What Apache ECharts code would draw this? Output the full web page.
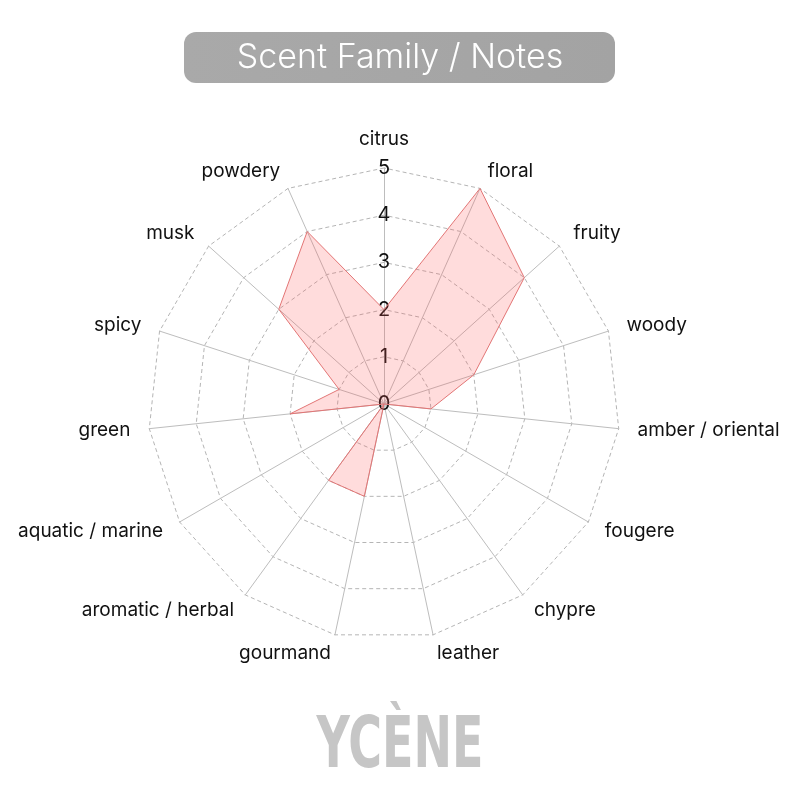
<!DOCTYPE html>
<html>
<head>
<meta charset="utf-8">
<script src="https://cdn.jsdelivr.net/npm/echarts@6/dist/echarts.min.js"></script>
<style>
  html, body { margin: 0; padding: 0; background: #fff; }
  #chart { width: 800px; height: 800px; }
</style>
</head>
<body>
<div id="chart"></div>
<script>
// notes listed clockwise from the top, as in the picture
const notes = ['citrus', 'floral', 'fruity', 'woody', 'amber / oriental', 'fougere', 'chypre',
  'leather', 'gourmand', 'aromatic / herbal', 'aquatic / marine', 'green', 'spicy', 'musk', 'powdery'];
const scores = [2, 5, 4, 2, 1, 0, 0, 0, 2, 2, 0, 2, 1, 3, 4];
const maxScore = 5;
const titleText = 'Scent Family / Notes';
const brandText = 'YCÈNE';

// echarts lays radar indicators out counter-clockwise, so flip everything after the first one
const order = [0].concat(notes.map((_, i) => i).slice(1).reverse());

const chart = echarts.init(document.getElementById('chart'));

chart.setOption({
  animation: false,
  backgroundColor: '#fff',
  graphic: [
    {
      type: 'rect',
      shape: { x: 184, y: 32, width: 431, height: 51, r: 12 },
      style: {
        fill: new echarts.graphic.LinearGradient(0, 0, 1, 0, [
          { offset: 0, color: '#a9a9a9' },
          { offset: 1, color: '#a3a3a3' }
        ])
      }
    },
    {
      type: 'text',
      x: 400, y: 58,
      style: {
        text: titleText, fill: '#fff', font: '300 34px Inter',
        align: 'center', verticalAlign: 'middle'
      }
    },
    {
      type: 'text',
      x: 400, y: 748, scaleX: 0.64,
      style: {
        text: brandText, fill: '#c6c6c6', font: 'bold 72px "DejaVu Sans"',
        align: 'center', verticalAlign: 'middle'
      }
    }
  ],
  radar: {
    center: [384, 404],
    radius: 236,
    startAngle: 90,
    shape: 'polygon',
    splitNumber: 5,
    indicator: order.map((i, k) => {
      const ind = { name: notes[i], max: maxScore, min: 0 };
      if (k === 0) ind.axisLabel = { show: true };
      return ind;
    }),
    axisName: { color: '#111', fontSize: 19, fontFamily: 'Inter' },
    nameGap: 19,
    axisLine: { lineStyle: { color: '#bdbdbd', width: 1 } },
    splitLine: { lineStyle: { color: '#b5b5b5', width: 1, type: [4, 3] } },
    splitArea: { show: false },
    axisTick: { show: false },
    axisLabel: {
      show: false, color: '#111', fontSize: 20, fontFamily: 'Inter',
      margin: 0, align: 'center', verticalAlign: 'middle'
    }
  },
  series: [{
    type: 'radar',
    symbol: 'none',
    data: [{
      value: order.map(i => scores[i]),
      lineStyle: { color: '#e07a7a', width: 1 },
      areaStyle: { color: 'rgba(255, 90, 90, 0.3)' }
    }]
  }]
});
</script>
</body>
</html>
